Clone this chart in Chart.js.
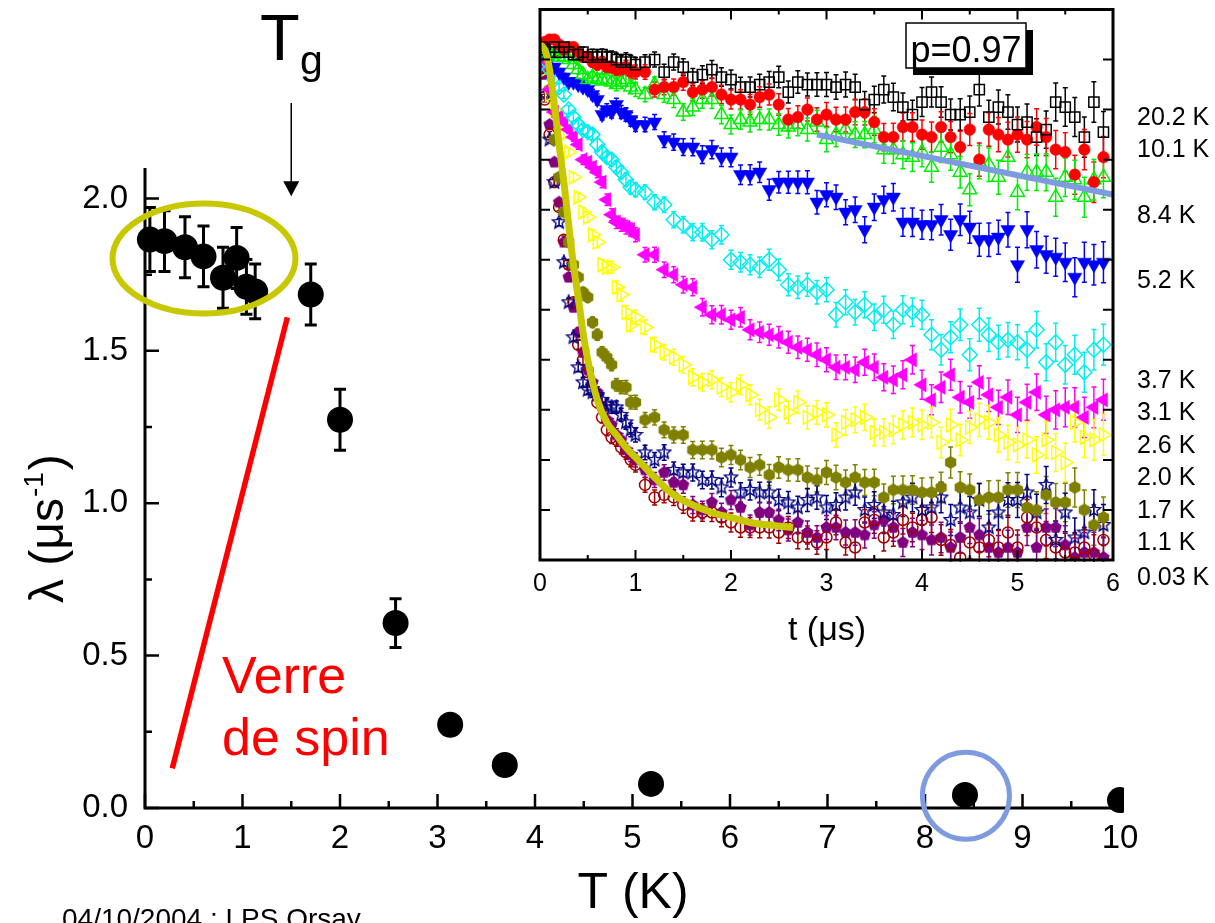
<!DOCTYPE html>
<html>
<head>
<meta charset="utf-8">
<script src="https://cdn.jsdelivr.net/npm/chart.js@4.4.1/dist/chart.umd.min.js"></script>
<style>
  html, body { margin: 0; padding: 0; background: #fff; overflow: hidden; }
  #main { position: absolute; left: 0; top: 0; }
  #inset { position: absolute; left: 500px; top: 0; }
</style>
</head>
<body>
<canvas id="main" width="1215" height="923"></canvas>
<canvas id="inset" width="630" height="610"></canvas>
<script>
// ---- main panel: relaxation rate vs temperature ----
const T_K = [0.05, 0.20, 0.41, 0.60, 0.80, 0.94, 1.04, 1.13, 1.70, 2.00, 2.57, 3.13, 3.69, 5.19, 8.41, 10.0];
const LAMBDA = [1.865, 1.86, 1.84, 1.81, 1.74, 1.805, 1.71, 1.695, 1.685, 1.274, 0.607, 0.273, 0.141, 0.079, 0.043, 0.026];
const LAMBDA_ERR = [0.105, 0.10, 0.10, 0.10, 0.10, 0.10, 0.09, 0.09, 0.10, 0.10, 0.08, 0, 0, 0, 0, 0];

const MAIN_X_MAJOR = [0, 1, 2, 3, 4, 5, 6, 7, 8, 9, 10];
const MAIN_X_MINOR = [0.5, 1.5, 2.5, 3.5, 4.5, 5.5, 6.5, 7.5, 8.5, 9.5];
const MAIN_Y_MAJOR = [0, 0.5, 1.0, 1.5, 2.0];
const MAIN_Y_MINOR = [0.25, 0.75, 1.25, 1.75];

// ---- inset: asymmetry (%) vs time (us) ----
const T_US = [0.02, 0.05, 0.10, 0.15, 0.20, 0.25, 0.30, 0.35, 0.40, 0.45, 0.50, 0.55, 0.60, 0.65, 0.70, 0.75, 0.80, 0.85, 0.90, 0.95, 1.00,
  1.1, 1.2, 1.3, 1.4, 1.5, 1.6, 1.7, 1.8, 1.9, 2.0, 2.1, 2.2, 2.3, 2.4, 2.5, 2.6, 2.7, 2.8, 2.9, 3.0,
  3.1, 3.2, 3.3, 3.4, 3.5, 3.6, 3.7, 3.8, 3.9, 4.0, 4.1, 4.2, 4.3, 4.4, 4.5, 4.6, 4.7, 4.8, 4.9, 5.0,
  5.1, 5.2, 5.3, 5.4, 5.5, 5.6, 5.7, 5.8, 5.9];
const ASY_ERR = [0.10, 0.10, 0.12, 0.13, 0.14, 0.15, 0.16, 0.17, 0.18, 0.19, 0.20, 0.21, 0.22, 0.22, 0.23, 0.24, 0.25, 0.26, 0.27, 0.27, 0.28,
  0.29, 0.30, 0.31, 0.32, 0.33, 0.34, 0.35, 0.36, 0.37, 0.38, 0.39, 0.40, 0.41, 0.42, 0.43, 0.44, 0.45, 0.46, 0.47, 0.48,
  0.49, 0.50, 0.51, 0.52, 0.53, 0.54, 0.55, 0.56, 0.57, 0.58, 0.60, 0.61, 0.62, 0.63, 0.64, 0.66, 0.67, 0.68, 0.69, 0.70,
  0.72, 0.73, 0.74, 0.76, 0.77, 0.78, 0.80, 0.81, 0.82];

const A_20K = [20.5, 20.4, 20.3, 20.5, 20.3, 20.5, 20.3, 20.2, 20.2, 20.3, 20.1, 20.2, 20.1, 20.2, 20.1, 20.1, 20.0, 19.9, 20.0, 19.9, 19.8,
  19.9, 20.0, 19.5, 19.9, 19.7, 19.3, 19.4, 19.6, 19.3, 19.2, 18.9, 18.9, 19.0, 19.1, 19.3, 18.7, 19.1, 19.0, 19.0, 19.0,
  18.9, 19.0, 18.9, 18.2, 18.4, 18.8, 18.5, 18.1, 17.8, 18.3, 18.7, 18.3, 17.8, 17.8, 17.9, 18.8, 17.7, 18.1, 17.9, 17.4,
  17.5, 16.9, 17.2, 18.3, 18.1, 17.7, 16.9, 18.3, 17.1];
const A_10K = [20.6, 20.7, 20.8, 20.8, 20.6, 20.4, 20.5, 20.5, 20.3, 20.1, 20.1, 19.9, 19.8, 19.9, 19.7, 19.7, 19.6, 19.6, 19.7, 19.5, 19.5,
  19.5, 18.8, 18.9, 18.9, 19.1, 18.7, 18.8, 18.9, 18.6, 18.4, 18.4, 18.2, 18.5, 18.6, 18.2, 17.6, 17.7, 18.0, 17.6, 17.8,
  17.6, 17.6, 17.9, 17.9, 17.5, 16.9, 16.9, 17.3, 17.3, 17.0, 16.9, 17.3, 16.9, 16.5, 17.2, 16.0, 17.2, 17.0, 16.8, 17.0,
  16.8, 17.3, 16.9, 16.4, 16.3, 15.4, 16.4, 15.1, 16.1];
const A_8K = [20.5, 20.4, 20.3, 20.2, 20.1, 20.1, 20.0, 19.8, 19.6, 19.4, 19.2, 19.3, 19.2, 19.2, 19.2, 19.1, 19.0, 19.1, 19.2, 18.9, 18.8,
  18.6, 19.0, 18.6, 18.4, 17.9, 18.1, 18.4, 18.4, 17.8, 17.4, 17.6, 17.5, 17.6, 17.6, 17.4, 17.3, 17.4, 17.2, 17.5, 16.8,
  17.0, 17.2, 17.0, 17.0, 17.2, 16.4, 16.4, 16.2, 16.1, 16.3, 15.7, 16.5, 16.2, 15.5, 14.8, 15.9, 15.8, 15.3, 16.1, 14.7,
  15.5, 15.5, 15.5, 14.5, 15.3, 15.2, 14.5, 15.2, 15.3];
const A_5K = [20.5, 20.3, 20.0, 19.7, 19.5, 19.3, 19.1, 19.1, 19.0, 18.9, 18.8, 18.6, 18.4, 17.8, 18.0, 17.9, 18.2, 17.9, 17.8, 17.6, 17.4,
  17.4, 17.5, 16.8, 16.7, 16.5, 16.5, 16.2, 16.4, 16.1, 16.1, 15.4, 15.4, 15.5, 14.8, 15.1, 15.1, 15.1, 15.1, 14.3, 14.6,
  14.5, 13.9, 14.0, 13.2, 14.1, 14.4, 14.5, 13.5, 13.5, 13.4, 13.4, 13.6, 13.0, 13.6, 13.3, 12.8, 12.8, 12.9, 13.2, 11.8,
  13.2, 12.4, 12.2, 12.1, 11.9, 11.3, 11.9, 11.8, 11.9];
const A_3K7 = [20.4, 20.0, 19.6, 19.2, 18.9, 18.6, 18.0, 17.7, 17.4, 17.2, 17.1, 17.0, 16.6, 16.3, 16.1, 16.0, 15.7, 15.5, 15.2, 14.9, 14.8,
  14.7, 14.3, 14.2, 13.6, 13.4, 13.1, 13.1, 12.8, 13.0, 12.0, 11.9, 11.8, 11.7, 12.0, 11.6, 11.0, 10.9, 11.0, 10.7, 10.8,
  9.8, 10.3, 9.9, 10.2, 9.7, 10.0, 9.4, 10.0, 9.9, 9.8, 9.0, 8.4, 8.9, 9.4, 8.2, 9.4, 9.0, 8.7, 8.8, 8.7,
  8.4, 9.2, 7.9, 8.7, 7.8, 8.2, 7.5, 8.4, 8.6];
const A_3K1 = [20.4, 19.8, 18.8, 17.9, 17.7, 17.5, 17.2, 16.9, 16.6, 16.0, 15.9, 15.7, 15.5, 15.1, 14.4, 13.8, 13.5, 13.4, 13.3, 13.2, 13.0,
  12.2, 12.2, 11.6, 11.4, 11.0, 10.9, 10.1, 9.8, 9.8, 9.6, 9.7, 9.2, 9.1, 9.0, 8.9, 8.7, 8.5, 8.4, 8.2, 8.0,
  7.7, 7.7, 7.6, 7.9, 7.7, 7.3, 7.2, 7.4, 8.0, 7.0, 6.4, 6.9, 7.4, 6.5, 6.3, 7.1, 6.6, 6.1, 6.5, 5.8,
  6.3, 6.7, 5.8, 6.0, 6.1, 6.1, 5.7, 6.1, 6.4];
const A_2K6 = [20.4, 19.6, 18.6, 18.0, 17.5, 17.0, 16.3, 15.3, 14.5, 13.9, 13.7, 13.0, 12.7, 11.8, 11.7, 11.7, 10.9, 10.6, 9.9, 9.4, 9.7,
  9.3, 8.6, 8.3, 8.1, 7.8, 7.3, 7.1, 7.2, 6.9, 6.7, 7.0, 6.6, 6.0, 5.7, 6.4, 5.9, 6.3, 5.7, 5.9, 5.8,
  5.0, 5.5, 5.6, 5.7, 5.1, 5.1, 5.2, 5.4, 5.5, 5.4, 5.5, 4.7, 5.4, 4.8, 5.3, 5.6, 5.5, 5.0, 4.7, 4.6,
  4.8, 4.2, 4.8, 4.3, 3.9, 5.5, 4.9, 4.8, 5.0];
const A_2K0 = [20.4, 19.8, 18.8, 16.8, 15.3, 13.9, 12.7, 11.8, 11.3, 10.7, 10.5, 9.5, 9.0, 8.3, 8.1, 7.8, 7.0, 6.9, 6.9, 6.3, 6.3,
  5.6, 5.7, 5.2, 5.0, 5.0, 4.4, 4.4, 4.4, 4.1, 4.2, 4.0, 3.7, 3.8, 3.4, 3.7, 3.6, 3.6, 3.3, 3.2, 3.5,
  3.3, 3.1, 3.3, 3.1, 3.1, 2.5, 2.8, 2.8, 2.8, 2.7, 2.7, 2.9, 3.9, 2.9, 2.8, 2.4, 2.5, 2.5, 2.8, 2.8,
  2.1, 2.0, 2.6, 2.3, 2.3, 2.9, 2.0, 1.4, 1.7];
const A_1K7 = [20.2, 18.6, 16.8, 15.1, 13.5, 11.9, 10.3, 8.9, 7.7, 7.1, 6.8, 6.7, 6.6, 6.4, 6.2, 6.1, 6.1, 5.8, 5.5, 5.2, 5.0,
  4.3, 4.0, 4.3, 3.6, 3.5, 3.5, 3.2, 3.2, 2.9, 3.3, 2.7, 2.8, 2.7, 2.7, 2.4, 2.3, 2.1, 2.4, 2.5, 2.1,
  2.2, 2.5, 2.7, 2.0, 2.2, 1.9, 1.8, 2.3, 2.5, 2.0, 2.1, 2.5, 1.6, 2.1, 1.9, 2.4, 1.3, 1.9, 2.4, 2.4,
  2.7, 1.9, 3.0, 0.8, 1.9, 0.9, 1.1, 2.0, 1.4];
const A_1K1 = [20.3, 18.4, 17.0, 15.1, 14.1, 12.8, 11.8, 10.3, 8.6, 8.0, 7.5, 6.8, 6.3, 5.7, 5.2, 4.9, 4.8, 4.5, 4.3, 4.0, 3.8,
  3.0, 2.5, 2.6, 2.5, 2.2, 1.9, 1.9, 1.9, 1.7, 1.5, 1.3, 1.3, 1.3, 1.3, 1.1, 1.3, 0.9, 0.9, 0.7, 0.9,
  1.5, 0.7, 0.5, 1.5, 1.6, 0.9, 1.1, 1.6, 1.3, 1.6, 1.7, 0.8, 0.6, 0.1, 0.7, 0.5, 0.8, 0.5, 1.1, 0.5,
  1.7, 1.3, 0.8, 0.5, 0.3, 0.3, 0.5, 0.2, 0.8];
const A_0K03 = [20.3, 19.4, 17.4, 15.9, 14.3, 12.7, 11.3, 10.1, 9.1, 8.3, 7.6, 7.1, 6.7, 6.1, 5.6, 5.4, 5.0, 4.8, 4.4, 4.2, 4.0,
  3.6, 3.2, 3.5, 3.1, 3.0, 2.2, 2.0, 2.3, 1.9, 2.4, 2.1, 1.4, 1.9, 1.9, 1.6, 1.2, 1.5, 1.1, 0.9, 1.3,
  1.3, 1.1, 1.1, 1.0, 1.4, 1.6, 1.3, 0.7, 1.1, 1.0, 0.8, 0.9, 0.5, 0.9, 1.3, 1.0, 0.5, 0.3, 0.5, 0.3,
  1.3, 0.5, 1.3, 1.3, 0.6, 0.1, 0.3, 0.3, 0.1];

const SERIES_LABELS = ['20.2 K', '10.1 K', '8.4 K', '5.2 K', '3.7 K', '3.1 K', '2.6 K', '2.0 K', '1.7 K', '1.1 K', '0.03 K'];
const SERIES_VALUES = [A_20K, A_10K, A_8K, A_5K, A_3K7, A_3K1, A_2K6, A_2K0, A_1K7, A_1K1, A_0K03];

// fitted curves drawn over the data
const FIT_T = [0.00, 0.03, 0.06, 0.10, 0.15, 0.20, 0.25, 0.30, 0.35, 0.40, 0.45, 0.50, 0.60, 0.70, 0.80, 0.90, 1.00, 1.20, 1.40, 1.60, 1.80, 2.00, 2.20, 2.40, 2.65];
const FIT_A = [20.6, 20.5, 20.3, 19.6, 18.2, 16.6, 15.1, 13.4, 11.8, 10.5, 9.1, 8.0, 6.4, 5.5, 5.0, 4.5, 4.1, 3.3, 2.6, 2.2, 1.9, 1.7, 1.5, 1.4, 1.3];
const TAIL_T = [2.9, 6.0];
const TAIL_A = [17.0, 14.6];

const INSET_X_MAJOR = [0, 1, 2, 3, 4, 5, 6];
const INSET_X_MINOR = [0.5, 1.5, 2.5, 3.5, 4.5, 5.5];
const INSET_Y_MAJOR = [2, 4, 6, 8, 10, 12, 14, 16, 18, 20];

// ---- styles ----
const FONT = '"Liberation Sans", Arial, Helvetica, sans-serif';
const INSET_LEFT = 500;
const LABEL_Y = [116, 148, 214, 279, 379, 411, 444, 476, 509, 541, 576];

function polyMarker(sides, size, fill, stroke, inner) {
  const c = document.createElement('canvas');
  c.width = size; c.height = size;
  const g = c.getContext('2d');
  const r = size / 2 - 1;
  const n = inner ? sides * 2 : sides;
  g.beginPath();
  for (let i = 0; i < n; i++) {
    const a = -Math.PI / 2 + i * 2 * Math.PI / n;
    const rr = inner && i % 2 ? r * inner : r;
    g.lineTo(size / 2 + rr * Math.cos(a), size / 2 + rr * Math.sin(a));
  }
  g.closePath();
  if (fill) { g.fillStyle = fill; g.fill(); }
  if (stroke) { g.strokeStyle = stroke; g.lineWidth = 1.4; g.stroke(); }
  return c;
}

const SERIES_STYLE = [
  { color: '#000000', pointStyle: 'rect', radius: 7.2, filled: false },
  { color: '#ff0000', pointStyle: 'circle', radius: 5.8, filled: true },
  { color: '#00ee00', pointStyle: 'triangle', radius: 8, filled: false },
  { color: '#0000ff', pointStyle: 'triangle', radius: 8.2, filled: true, rotation: 180 },
  { color: '#00eeee', pointStyle: 'rectRot', radius: 7.5, filled: false },
  { color: '#ff00ff', pointStyle: 'triangle', radius: 8.2, filled: true, rotation: 270 },
  { color: '#ffff00', pointStyle: 'triangle', radius: 8, filled: false, rotation: 90 },
  { color: '#808000', pointStyle: polyMarker(6, 15, '#808000', null), radius: 7, filled: true },
  { color: '#000080', pointStyle: polyMarker(5, 16, null, '#000080', 0.45), radius: 7, filled: false },
  { color: '#a00000', pointStyle: 'circle', radius: 5.5, filled: false },
  { color: '#800080', pointStyle: polyMarker(5, 15, '#800080', null), radius: 7, filled: true }
];

function drawTicks(chart, cfg) {
  const { ctx, chartArea: a, scales: { x, y } } = chart;
  ctx.save();
  ctx.strokeStyle = '#000';
  ctx.lineWidth = cfg.width;
  ctx.beginPath();
  const vx = (vals, len) => vals.forEach(v => {
    const px = x.getPixelForValue(v);
    ctx.moveTo(px, a.bottom); ctx.lineTo(px, a.bottom - len);
    if (cfg.mirror) { ctx.moveTo(px, a.top); ctx.lineTo(px, a.top + len); }
  });
  const vy = (vals, len) => vals.forEach(v => {
    const py = y.getPixelForValue(v);
    ctx.moveTo(a.left, py); ctx.lineTo(a.left + len, py);
    if (cfg.mirror) { ctx.moveTo(a.right, py); ctx.lineTo(a.right - len, py); }
  });
  vx(cfg.xMajor, cfg.major); vx(cfg.xMinor, cfg.minor);
  vy(cfg.yMajor, cfg.major); vy(cfg.yMinor, cfg.minor);
  ctx.stroke();
  ctx.lineWidth = cfg.axisWidth;
  ctx.beginPath();
  if (cfg.mirror) {
    ctx.rect(a.left, a.top, a.right - a.left, a.bottom - a.top);
  } else {
    ctx.moveTo(a.left, a.top); ctx.lineTo(a.left, a.bottom); ctx.lineTo(a.right, a.bottom);
  }
  ctx.stroke();
  ctx.restore();
}

const errorBars = {
  id: 'errorBars',
  beforeDatasetsDraw(chart) {
    const { ctx, chartArea: a, scales: { x, y } } = chart;
    ctx.save();
    ctx.beginPath();
    ctx.rect(a.left, a.top, a.right - a.left, a.bottom - a.top + 2);
    ctx.clip();
    chart.data.datasets.forEach(ds => {
      if (!ds.errors) return;
      ctx.strokeStyle = ds.errColor;
      ctx.lineWidth = ds.errWidth;
      ctx.beginPath();
      ds.data.forEach((p, j) => {
        const e = ds.errors[j];
        if (!e) return;
        const px = x.getPixelForValue(p.x);
        const top = y.getPixelForValue(p.y + e);
        const bot = y.getPixelForValue(p.y - e);
        const c = ds.errCap;
        ctx.moveTo(px, top); ctx.lineTo(px, bot);
        ctx.moveTo(px - c, top); ctx.lineTo(px + c, top);
        ctx.moveTo(px - c, bot); ctx.lineTo(px + c, bot);
      });
      ctx.stroke();
    });
    ctx.restore();
  }
};

const mainDecor = {
  id: 'mainDecor',
  afterDraw(chart) {
    const { ctx, scales: { x, y } } = chart;
    drawTicks(chart, { xMajor: MAIN_X_MAJOR, xMinor: MAIN_X_MINOR, yMajor: MAIN_Y_MAJOR, yMinor: MAIN_Y_MINOR,
      major: 14, minor: 7, width: 2.5, axisWidth: 3, mirror: false });

    ctx.save();
    // spin-glass region
    ctx.strokeStyle = '#c8c800';
    ctx.lineWidth = 6;
    ctx.beginPath();
    ctx.ellipse(x.getPixelForValue(0.605), y.getPixelForValue(1.803), 91.5, 55, 0, 0, 2 * Math.PI);
    ctx.stroke();
    // 8.4 K marker
    ctx.strokeStyle = '#7f9be0';
    ctx.lineWidth = 5;
    ctx.beginPath();
    ctx.arc(x.getPixelForValue(8.42), y.getPixelForValue(0.04), 43.5, 0, 2 * Math.PI);
    ctx.stroke();
    // red bar
    ctx.strokeStyle = '#ff0000';
    ctx.lineWidth = 5.5;
    ctx.beginPath();
    ctx.moveTo(x.getPixelForValue(0.28), y.getPixelForValue(0.13));
    ctx.lineTo(x.getPixelForValue(1.46), y.getPixelForValue(1.61));
    ctx.stroke();
    // Tg arrow
    const ax = x.getPixelForValue(1.5);
    const tip = y.getPixelForValue(2.007);
    ctx.strokeStyle = '#000';
    ctx.lineWidth = 1.5;
    ctx.beginPath();
    ctx.moveTo(ax, 103); ctx.lineTo(ax, tip - 12);
    ctx.stroke();
    ctx.fillStyle = '#000';
    ctx.beginPath();
    ctx.moveTo(ax - 8, tip - 15); ctx.lineTo(ax + 8, tip - 15); ctx.lineTo(ax, tip);
    ctx.closePath(); ctx.fill();

    // texts
    ctx.textBaseline = 'alphabetic';
    ctx.textAlign = 'left';
    ctx.font = '65px ' + FONT; ctx.fillText('T', 260, 60);
    ctx.font = '41px ' + FONT; ctx.fillText('g', 300, 74);
    ctx.fillStyle = '#ff0000';
    ctx.font = '52px ' + FONT;
    ctx.fillText('Verre', 222, 693);
    ctx.fillText('de spin', 222, 755);
    ctx.fillStyle = '#000';
    ctx.textAlign = 'center';
    ctx.font = '50px ' + FONT; ctx.fillText('T (K)', 633, 908);
    ctx.font = '34px ' + FONT; ctx.fillText('t (\u03bcs)', 827, 640);
    ctx.textAlign = 'left';
    ctx.font = '28px ' + FONT; ctx.fillText('04/10/2004 : LPS Orsay', 62, 928);
    ctx.font = '25px ' + FONT;
    SERIES_LABELS.forEach((s, i) => ctx.fillText(s, 1137, LABEL_Y[i] + 9));

    // rotated y title
    ctx.save();
    ctx.translate(63, 603);
    ctx.rotate(-Math.PI / 2);
    ctx.font = '48px ' + FONT;
    const w1 = ctx.measureText('\u03bb (\u03bcs').width;
    ctx.fillText('\u03bb (\u03bcs', 0, 0);
    ctx.font = '28px ' + FONT;
    const w2 = ctx.measureText('-1').width;
    ctx.fillText('-1', w1 + 1, -20);
    ctx.font = '48px ' + FONT;
    ctx.fillText(')', w1 + w2 + 3, 0);
    ctx.restore();
    ctx.restore();
  }
};

const insetDecor = {
  id: 'insetDecor',
  afterDraw(chart) {
    const { ctx } = chart;
    drawTicks(chart, { xMajor: INSET_X_MAJOR, xMinor: INSET_X_MINOR, yMajor: INSET_Y_MAJOR, yMinor: [],
      major: 10, minor: 5, width: 2, axisWidth: 3, mirror: true });
    // p label box
    const bx = 906 - INSET_LEFT, by = 23, bw = 120, bh = 45;
    ctx.save();
    ctx.fillStyle = '#000';
    ctx.fillRect(bx + 7, by + 7, bw, bh);
    ctx.fillStyle = '#fff';
    ctx.fillRect(bx, by, bw, bh);
    ctx.strokeStyle = '#000';
    ctx.lineWidth = 1.5;
    ctx.strokeRect(bx, by, bw, bh);
    ctx.fillStyle = '#000';
    ctx.font = '36px ' + FONT;
    ctx.textAlign = 'center';
    ctx.textBaseline = 'alphabetic';
    ctx.fillText('p=0.97', bx + bw / 2, by + 39);
    ctx.restore();
  }
};

// ---- main chart ----
new Chart(document.getElementById('main'), {
  type: 'scatter',
  data: {
    datasets: [{
      data: T_K.map((t, i) => ({ x: t, y: LAMBDA[i] })),
      errors: LAMBDA_ERR,
      errColor: '#000', errWidth: 3, errCap: 6,
      pointRadius: 13,
      pointHoverRadius: 13,
      backgroundColor: '#000',
      borderColor: '#000',
      borderWidth: 0,
      clip: { left: 20, top: 20, right: 4, bottom: 20 }
    }]
  },
  options: {
    responsive: false,
    animation: false,
    devicePixelRatio: 1,
    layout: { padding: { top: 168, right: 95, left: 0, bottom: 0 } },
    plugins: { legend: { display: false }, tooltip: { enabled: false } },
    scales: {
      x: {
        type: 'linear', min: 0, max: 10,
        grid: { display: false, drawTicks: false },
        border: { display: false },
        ticks: { stepSize: 1, color: '#000', font: { family: FONT, size: 33 }, padding: 11, maxRotation: 0 },
        afterFit: s => { s.height = 115; }
      },
      y: {
        type: 'linear', min: 0, max: 2.1,
        grid: { display: false, drawTicks: false },
        border: { display: false },
        ticks: { stepSize: 0.5, includeBounds: false, color: '#000', font: { family: FONT, size: 33 }, padding: 17,
          callback: v => (Math.abs(v * 2 - Math.round(v * 2)) < 1e-6 ? v.toFixed(1) : '') },
        afterFit: s => { s.width = 145; }
      }
    }
  },
  plugins: [errorBars, mainDecor]
});

// ---- inset chart ----
const insetSets = [
  { data: FIT_T.map((t, i) => ({ x: t, y: FIT_A[i] })), showLine: true, borderColor: '#c8c800', borderWidth: 7,
    pointRadius: 0, cubicInterpolationMode: 'monotone', fill: false },
  { data: TAIL_T.map((t, i) => ({ x: t, y: TAIL_A[i] })), showLine: true, borderColor: '#7f9be0', borderWidth: 6,
    pointRadius: 0, fill: false }
];
SERIES_VALUES.forEach((vals, k) => {
  const st = SERIES_STYLE[k];
  insetSets.push({
    label: SERIES_LABELS[k],
    data: T_US.map((t, i) => ({ x: t, y: vals[i] })),
    errors: ASY_ERR, errColor: st.color, errWidth: 1.5, errCap: 2.5,
    pointStyle: st.pointStyle,
    pointRadius: st.radius,
    pointRotation: st.rotation || 0,
    backgroundColor: st.filled ? st.color : 'rgba(0,0,0,0)',
    borderColor: st.color,
    borderWidth: typeof st.pointStyle === 'string' ? (st.filled ? 0.5 : 1.5) : 0,
    showLine: false
  });
});

new Chart(document.getElementById('inset'), {
  type: 'scatter',
  data: { datasets: insetSets },
  options: {
    responsive: false,
    animation: false,
    devicePixelRatio: 1,
    layout: { padding: { top: 5, right: 17, left: 0, bottom: 0 } },
    plugins: { legend: { display: false }, tooltip: { enabled: false } },
    scales: {
      x: {
        type: 'linear', min: 0, max: 6,
        grid: { display: false, drawTicks: false },
        border: { display: false },
        ticks: { stepSize: 1, color: '#000', font: { family: FONT, size: 25 }, padding: 9, maxRotation: 0 },
        afterFit: s => { s.height = 50; }
      },
      y: {
        type: 'linear', min: 0, max: 22,
        grid: { display: false, drawTicks: false },
        border: { display: false },
        ticks: { display: false, stepSize: 2 },
        afterFit: s => { s.width = 40; }
      }
    }
  },
  plugins: [errorBars, insetDecor]
});
</script>
</body>
</html>
